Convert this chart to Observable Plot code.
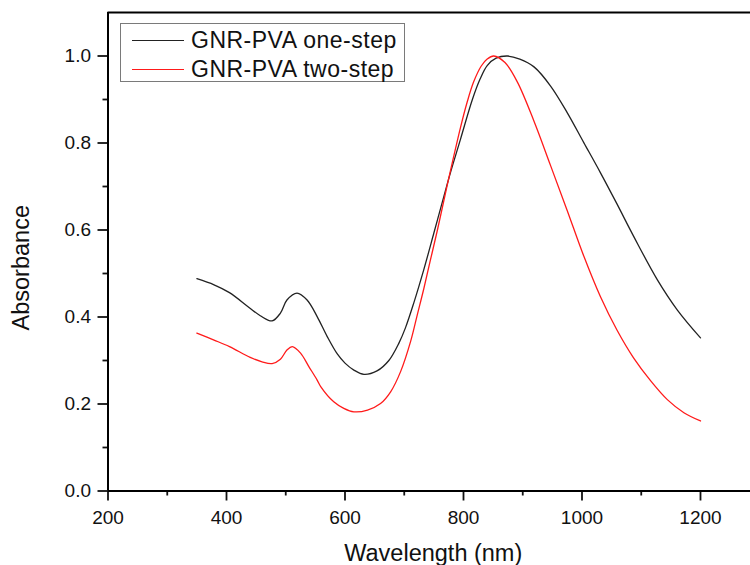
<!DOCTYPE html>
<html>
<head>
<meta charset="utf-8">
<script src="https://cdn.jsdelivr.net/npm/d3@7"></script>
<script src="https://cdn.jsdelivr.net/npm/@observablehq/plot@0.6"></script>
<style>
  html, body { margin: 0; padding: 0; background: #fff; }
  #wrap { position: relative; width: 750px; height: 565px; overflow: hidden; font-family: "Liberation Sans", Arial, sans-serif; }
  #legend { position: absolute; left: 120px; top: 23px; width: 285px; height: 59px; border: 1px solid #7a7a7a; box-sizing: border-box; background: #fff; }
  .sw { position: absolute; left: 11px; width: 52px; height: 0; }
  .lt { position: absolute; left: 70px; font-size: 23px; letter-spacing: 0.5px; color: #111; white-space: nowrap; line-height: 28px; }
</style>
</head>
<body>
<div id="wrap"></div>
<script>
// Series names
const seriesNames = ["GNR-PVA one-step", "GNR-PVA two-step"];
const seriesColors = ["#222222", "#ff1a1a"];

// GNR-PVA one-step (black)
const wlOne = [350, 379, 405, 438, 457, 477, 491, 502, 519, 536, 553, 570, 587, 600, 615, 632, 654, 674, 691, 702, 716, 733, 750, 767, 778, 795, 815, 828, 840, 855, 874, 895, 919, 947, 975, 1003, 1031, 1059, 1087, 1127, 1161, 1200];
const absOne = [0.488, 0.474, 0.456, 0.422, 0.403, 0.391, 0.409, 0.439, 0.455, 0.439, 0.401, 0.355, 0.315, 0.294, 0.278, 0.268, 0.276, 0.300, 0.340, 0.375, 0.432, 0.509, 0.593, 0.678, 0.732, 0.809, 0.900, 0.947, 0.978, 0.995, 1.000, 0.993, 0.975, 0.931, 0.870, 0.801, 0.732, 0.660, 0.586, 0.486, 0.416, 0.352];

// GNR-PVA two-step (red)
const wlTwo = [350, 379, 405, 440, 460, 477, 491, 502, 511, 525, 539, 553, 559, 581, 598, 615, 638, 660, 677, 694, 711, 722, 733, 744, 756, 772, 784, 795, 806, 817, 830, 840, 851, 870, 891, 919, 947, 975, 1003, 1031, 1059, 1087, 1116, 1144, 1172, 1200];
const absTwo = [0.363, 0.347, 0.332, 0.307, 0.297, 0.293, 0.303, 0.324, 0.332, 0.317, 0.286, 0.255, 0.240, 0.205, 0.190, 0.182, 0.186, 0.201, 0.228, 0.275, 0.345, 0.405, 0.465, 0.530, 0.600, 0.700, 0.772, 0.836, 0.893, 0.940, 0.977, 0.993, 1.000, 0.985, 0.940, 0.850, 0.748, 0.645, 0.540, 0.447, 0.370, 0.306, 0.253, 0.210, 0.180, 0.161];

// Ticks
const xMajorTicks = [200, 400, 600, 800, 1000, 1200];
const xMinorTicks = [300, 500, 700, 900, 1100];
const yMajorTicks = [0, 0.2, 0.4, 0.6, 0.8, 1.0];
const yMinorTicks = [0.1, 0.3, 0.5, 0.7, 0.9];
const xDomain = [200, 1284.4];
const yDomain = [0, 1.1];
const xTitle = "Wavelength (nm)";
const yTitle = "Absorbance";

const data = [
  ...wlOne.map((w, i) => ({wl: w, a: absOne[i], s: seriesNames[0]})),
  ...wlTwo.map((w, i) => ({wl: w, a: absTwo[i], s: seriesNames[1]}))
];

const font = "'Liberation Sans', Arial, sans-serif";

const chart = Plot.plot({
  width: 750,
  height: 565,
  marginLeft: 107.5,
  marginRight: 0,
  marginTop: 12,
  marginBottom: 74.5,
  style: {fontFamily: font, background: "#fff", color: "#111", overflow: "hidden"},
  x: {domain: xDomain, label: null},
  y: {domain: yDomain, label: null},
  color: {domain: seriesNames, range: seriesColors},
  marks: [
    Plot.line(data, {x: "wl", y: "a", z: "s", stroke: "s", strokeWidth: 1.3, curve: "catmull-rom"}),
    Plot.axisX({ticks: xMajorTicks, tickSize: 10, tickPadding: 9, fontSize: 19, strokeWidth: 1.8, label: null, tickFormat: d3.format("d")}),
    Plot.axisX({ticks: xMinorTicks, tickSize: 5, strokeWidth: 1.8, label: null, tickFormat: () => ""}),
    Plot.axisY({ticks: yMajorTicks, tickSize: 10, tickPadding: 7, fontSize: 19, strokeWidth: 1.8, label: null, tickFormat: d3.format(".1f")}),
    Plot.axisY({ticks: yMinorTicks, tickSize: 5, strokeWidth: 1.8, label: null, tickFormat: () => ""}),
    Plot.ruleY([yDomain[0], yDomain[1]], {stroke: "#000", strokeWidth: 2}),
    Plot.ruleX([xDomain[0]], {stroke: "#000", strokeWidth: 2}),
    Plot.text([xTitle], {text: d => d, frameAnchor: "bottom", textAnchor: "middle", dx: 4, dy: 62.5, lineAnchor: "middle", fontSize: 23.5, fill: "#111"}),
    Plot.text([yTitle], {text: d => d, frameAnchor: "left", textAnchor: "middle", rotate: -90, dx: -87, dy: 16, lineAnchor: "middle", fontSize: 23.5, fill: "#111"})
  ]
});

const wrap = document.getElementById("wrap");
wrap.appendChild(chart);

// Legend
const legend = document.createElement("div");
legend.id = "legend";
seriesNames.forEach((name, i) => {
  const top = i === 0 ? 2 : 31;
  const sw = document.createElement("div");
  sw.className = "sw";
  sw.style.top = (top + 14) + "px";
  sw.style.borderTop = "1.3px solid " + seriesColors[i];
  const lt = document.createElement("div");
  lt.className = "lt";
  lt.style.top = top + "px";
  lt.textContent = name;
  legend.appendChild(sw);
  legend.appendChild(lt);
});
wrap.appendChild(legend);
</script>
</body>
</html>
